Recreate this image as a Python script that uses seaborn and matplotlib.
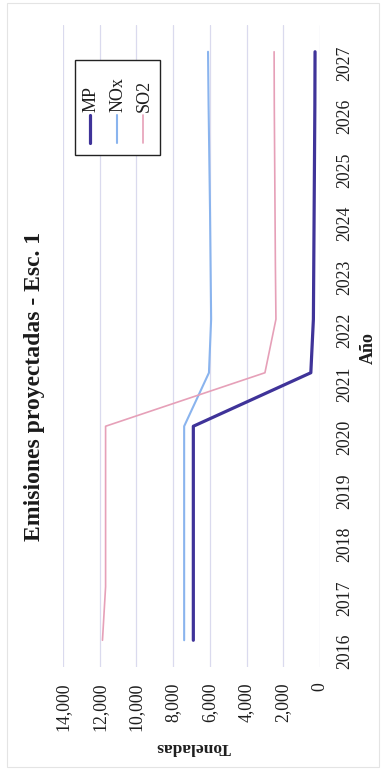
import matplotlib
matplotlib.use("Agg")
import matplotlib.pyplot as plt
import seaborn as sns
import pandas as pd
from matplotlib.lines import Line2D
from matplotlib.patches import Rectangle
from matplotlib.ticker import FuncFormatter, MultipleLocator

# Projected emissions (tonnes per year) for scenario 1
years = list(range(2016, 2028))
mp = [6900, 6900, 6900, 6900, 6900, 500, 360, 340, 320, 300, 280, 270]
nox = [7400, 7400, 7400, 7400, 7400, 6050, 5930, 5960, 5990, 6030, 6070, 6100]
so2 = [11850, 11680, 11680, 11680, 11680, 3000, 2400, 2430, 2450, 2470, 2490, 2500]
series_names = ["MP", "NOx", "SO2"]
series_colors = ["#3F3399", "#8AB4EE", "#E6A0B8"]
series_widths = [2.3, 1.5, 1.2]

df = pd.DataFrame({
    "Año": years * 3,
    "Toneladas": mp + nox + so2,
    "Contaminante": [n for n in series_names for _ in years],
})

sns.set_theme(style="white")
plt.rcParams["font.family"] = ["Liberation Serif", "DejaVu Serif"]

W, H = 385, 771
fig = plt.figure(figsize=(W / 100, H / 100), dpi=100)
fig.patch.set_facecolor("white")


def fx(px):
    return px / W


def fy(py):
    return 1 - py / H


# The chart is laid out sideways: years run up the page, tonnes run right-to-left
ax = fig.add_axes([fx(63), fy(667), (320 - 63) / W, (667 - 25) / H])

for name, color, lw in zip(series_names, series_colors, series_widths):
    sns.lineplot(
        data=df[df["Contaminante"] == name],
        x="Toneladas", y="Año", orient="y", estimator=None,
        color=color, lw=lw, ax=ax, legend=False,
    )

ax.set_xlim(14000, 0)
ax.set_ylim(2015.5, 2027.5)
ax.xaxis.set_major_locator(MultipleLocator(2000))
ax.xaxis.set_major_formatter(FuncFormatter(lambda v, p: f"{v:,.0f}"))
ax.set_yticks(years)
ax.set_yticklabels([str(y) for y in years])

ax.grid(axis="x", color="#DADAEE", lw=0.9)
ax.grid(axis="y", visible=False)
ax.set_axisbelow(True)
for s in ax.spines.values():
    s.set_visible(False)

ax.yaxis.tick_right()
ax.tick_params(axis="x", labelrotation=90, length=0, pad=11, labelsize=12.8,
               colors="#1e1e1e")
ax.tick_params(axis="y", labelrotation=90, length=0, pad=12, labelsize=12.8,
               left=False, labelleft=False, labelright=True, colors="#1e1e1e")

ax.set_xlabel("Toneladas", fontsize=12.5, fontweight="bold", rotation=180,
              color="#1e1e1e")
ax.xaxis.set_label_coords(0.506, -0.125)
ax.xaxis.label.set_ha("center")
ax.xaxis.label.set_va("center")

ax.yaxis.set_label_position("right")
ax.set_ylabel("Año", fontsize=13, fontweight="bold", rotation=90,
              color="#1e1e1e")
ax.yaxis.set_label_coords(1.187, 0.497)
ax.yaxis.label.set_ha("center")
ax.yaxis.label.set_va("center")

fig.text(fx(35), fy(386), "Emisiones proyectadas - Esc. 1", rotation=90,
         ha="center", va="center", fontsize=17, fontweight="bold",
         color="#1a1a1a")

# Legend box, turned with the chart
fig.add_artist(Rectangle((fx(75), fy(155)), (160 - 75) / W, (155 - 60) / H,
                         transform=fig.transFigure, facecolor="white",
                         edgecolor="#222222", lw=1.0))
for name, color, lw, px in zip(series_names, series_colors, series_widths,
                               [90, 117, 143]):
    fig.add_artist(Line2D([fx(px), fx(px)], [fy(143), fy(115)],
                          transform=fig.transFigure, color=color, lw=lw))
    fig.text(fx(px + 1), fy(112), name, rotation=90, ha="center", va="bottom",
             fontsize=13, color="#1e1e1e")

# Faint chart-area border
fig.add_artist(Rectangle((fx(7), fy(767)), (379 - 7) / W, (767 - 3) / H,
                         transform=fig.transFigure, fill=False,
                         edgecolor="#E4E4E4", lw=0.8))

fig.savefig("out.png", dpi=100)
